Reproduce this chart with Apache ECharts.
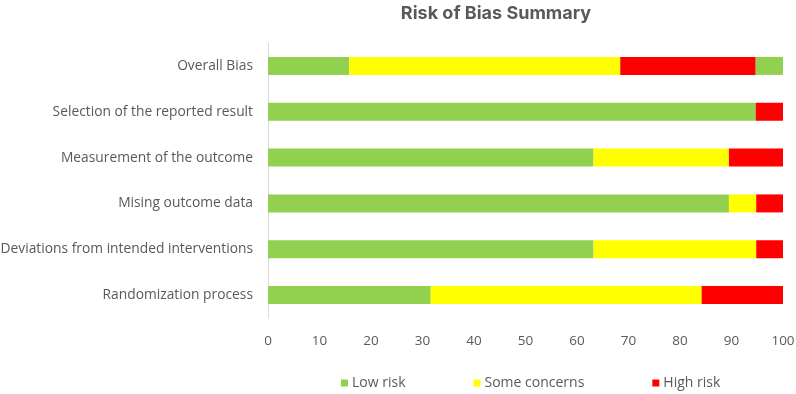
<!DOCTYPE html>
<html>
<head>
<meta charset="utf-8">
<script src="https://cdn.jsdelivr.net/npm/echarts@6/dist/echarts.min.js"></script>
<style>
  html, body { margin: 0; padding: 0; background: #fff; }
  #chart { width: 796px; height: 394px; }
</style>
</head>
<body>
<div id="chart"></div>
<script>
// categories bottom -> top
const domains = [
  'Randomization process',
  'Deviations from intended interventions',
  'Mising outcome data',
  'Measurement of the outcome',
  'Selection of the reported result',
  'Overall Bias'
]
const lowRisk = [31.6, 63.2, 89.5, 63.2, 94.7, 15.8]
const someConcerns = [52.6, 31.6, 5.3, 26.3, 0, 52.6]
const highRisk = [15.8, 5.3, 5.3, 10.5, 5.3, 26.3]
// the overall row ends with another green piece
const lowRiskTail = [0, 0, 0, 0, 0, 5.3]
const xTicks = [0, 10, 20, 30, 40, 50, 60, 70, 80, 90, 100]

const GREEN = '#92d050'
const YELLOW = '#ffff00'
const RED = '#ff0000'
const TEXT = '#595959'

const chart = echarts.init(document.getElementById('chart'))

const bar = (name, data, color) => ({
  name,
  type: 'bar',
  stack: 'rob',
  data,
  barWidth: 18,
  itemStyle: { color },
  emphasis: { disabled: true }
})

chart.setOption({
  animation: false,
  textStyle: { fontFamily: 'Open Sans, Noto Sans, sans-serif' },
  title: {
    text: 'Risk of Bias Summary',
    left: 491,
    textAlign: 'center',
    top: 0,
    textStyle: { fontSize: 18, fontWeight: 'bold', color: TEXT, fontFamily: 'Inter, Noto Sans, sans-serif' }
  },
  legend: {
    data: ['Low risk', 'Some concerns', 'High risk'],
    left: 341,
    top: 376,
    padding: 0,
    itemWidth: 7,
    itemHeight: 7,
    itemGap: 68,
    icon: 'rect',
    textStyle: { fontSize: 14, color: TEXT, padding: [0, 0, 0, -1] }
  },
  grid: { left: 268, right: 13, top: 43, bottom: 76, outerBoundsMode: 'none' },
  xAxis: {
    type: 'value',
    min: xTicks[0],
    max: xTicks[xTicks.length - 1],
    interval: 10,
    axisLine: { show: false },
    axisTick: { show: false },
    splitLine: { show: false },
    axisLabel: { color: TEXT, fontSize: 13.5, margin: 16 }
  },
  yAxis: {
    type: 'category',
    data: domains,
    axisLine: { show: true, lineStyle: { color: '#d9d9d9' } },
    axisTick: { show: false },
    axisLabel: { color: TEXT, fontSize: 13.8, margin: 15 }
  },
  series: [
    bar('Low risk', lowRisk, GREEN),
    bar('Some concerns', someConcerns, YELLOW),
    bar('High risk', highRisk, RED),
    bar('Low risk', lowRiskTail, GREEN)
  ]
})
</script>
</body>
</html>
